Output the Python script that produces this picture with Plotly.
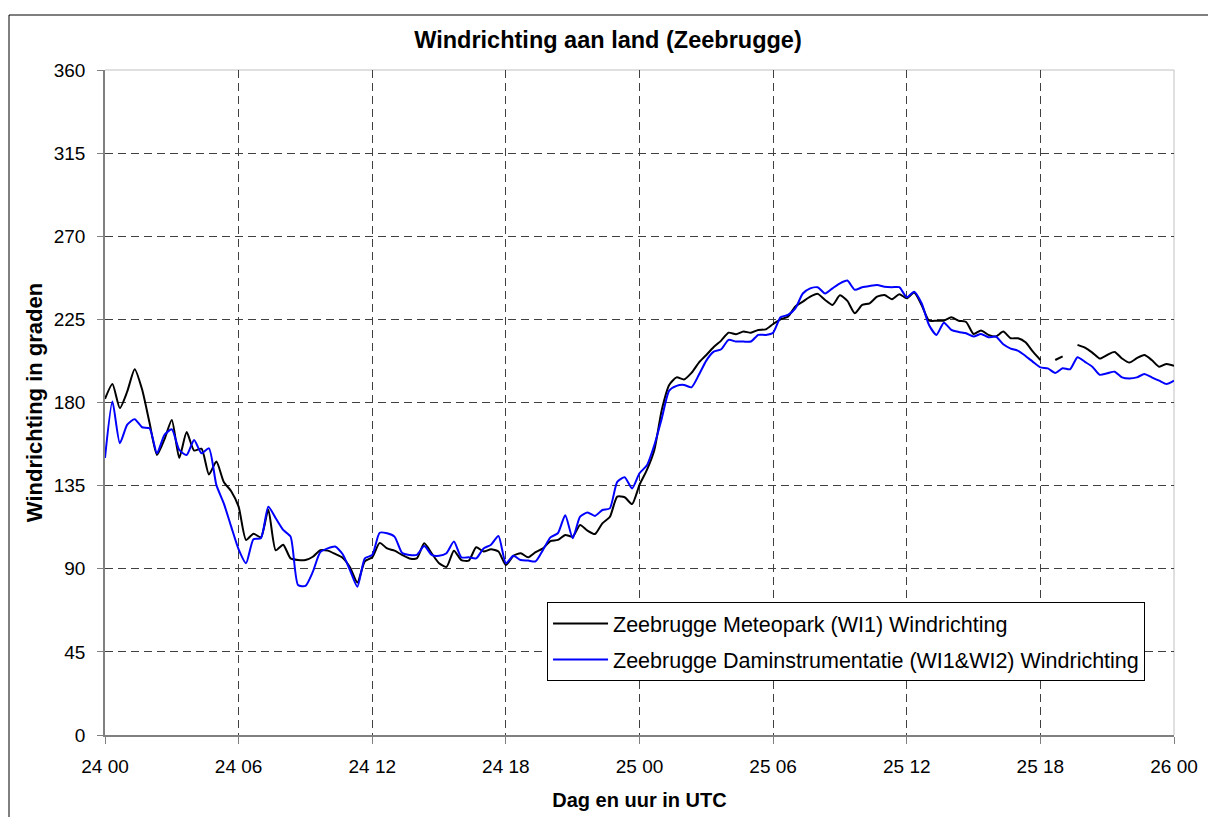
import numpy as np
import plotly.graph_objects as go

# Tijdas: uren na 24 00 UTC, één waarde per 20 minuten (24 00 .. 26 00)
uren = np.arange(145) * 20 / 60

tick_uren = [0, 6, 12, 18, 24, 30, 36, 42, 48]
tick_labels = ["24 00", "24 06", "24 12", "24 18", "25 00",
               "25 06", "25 12", "25 18", "26 00"]
graden_ticks = [0, 45, 90, 135, 180, 225, 270, 315, 360]

# Zeebrugge Meteopark (WI1) windrichting in graden (None = ontbrekend)
meteopark = [
    182, 190, 177, 186, 198, 187, 169, 151.6, 160, 170.5,
    150, 164, 154, 155, 141, 148, 137, 132, 123.6, 105.6,
    109, 107, 122, 100, 103, 95.6, 94.7, 94.7, 96.5, 100,
    99.8, 98, 96, 90.8, 82.5, 94, 96.2, 104, 101, 99.8,
    97.5, 95.6, 95.6, 103.8, 98.4, 93, 91, 99.8, 94.7, 94.4,
    101.6, 99.3, 100.5, 99.3, 92, 97, 98.4, 96.2, 99, 101,
    105, 105.6, 108.3, 107.4, 113.7, 110.6, 108.8, 114.6, 118, 129,
    128.7, 125, 135.4, 143.5, 154.3, 176, 189.5, 193.6, 192.5, 196,
    201.6, 205.7, 210, 213.5, 217.8, 217, 218.4, 217.8, 219.3, 219.6,
    222.5, 225, 226.5, 232, 234.6, 237.3, 238.8, 235.5, 232.8, 238,
    235, 228.3, 232.8, 233.7, 237.3, 238.2, 235.9, 238.6, 236.4, 239.5,
    232.8, 224.3, 224.3, 224.3, 226.1, 224.3, 223.6, 217.1, 219, 216.6,
    215.7, 218.4, 214.8, 214.8, 212.6, 207.5, 203, None, 203, 205,
    None, 211.2, 209.7, 207, 203.8, 205.7, 207.4, 203.8, 201.6, 204,
    205.7, 203, 199.4, 200.9, 199.8,
]

# Zeebrugge Daminstrumentatie (WI1&WI2) windrichting in graden
daminstrumentatie = [
    150, 180.5, 158, 168, 171, 166.6, 166, 152.5, 162.4, 165.5,
    154.3, 151.6, 159.7, 152.5, 155.2, 135.4, 125.4, 112.8, 100.5, 93,
    106, 106.5, 123.6, 117.3, 111, 107.4, 81.2, 80.7, 88.4, 99,
    101, 102, 98, 89.3, 80.3, 95.6, 97.5, 109.5, 109.2, 107.4,
    98.7, 97.5, 97.5, 102.3, 97.5, 97, 98.4, 104.7, 96.2, 96.2,
    95.6, 101, 103, 107.7, 93, 97, 94.7, 94.4, 94, 100.2,
    107, 109.2, 119, 106.5, 118.2, 120.4, 118.6, 121.8, 122.7, 137,
    139.5, 133.5, 141.7, 146, 157, 171.4, 186.4, 189, 189.5, 188.2,
    195, 202.7, 207.5, 208.8, 213.9, 213, 213, 213, 216.6, 216.6,
    217.8, 226.1, 227.4, 231, 239, 241.8, 242.4, 239, 241.8, 244.5,
    246, 241, 242.4, 243.1, 243.6, 242.7, 242.4, 242.4, 237, 240,
    233.7, 222, 216.6, 223.2, 219.3, 218.2, 217.5, 215.7, 217.1, 215.3,
    215.7, 211.5, 209.2, 208, 205.2, 202, 199, 198.5, 196, 198.5,
    198, 204.5, 202, 199.4, 195, 195.8, 196.7, 193.6, 193, 193.6,
    195.4, 193.6, 191.8, 190, 191.8,
]

FONT = "Liberation Sans, Arial, sans-serif"

fig = go.Figure()

fig.add_trace(go.Scatter(
    x=uren, y=meteopark,
    mode="lines",
    name="Zeebrugge Meteopark (WI1) Windrichting",
    line=dict(color="#000000", width=2, shape="spline", smoothing=0.6),
    connectgaps=False,
    legendgroup="a",
))
fig.add_trace(go.Scatter(
    x=uren, y=daminstrumentatie,
    mode="lines",
    name="Zeebrugge Daminstrumentatie (WI1&WI2) Windrichting",
    line=dict(color="#0000ff", width=2, shape="spline", smoothing=0.6),
    legendgroup="b",
))

# kader rond de hele grafiek + rand van het plotgebied
fig.add_shape(type="rect", xref="paper", yref="paper",
              x0=-0.0898, x1=1.2, y0=-0.3, y1=1.0827,
              line=dict(color="#000000", width=1), layer="below")
fig.add_shape(type="line", xref="paper", yref="paper",
              x0=0, x1=1, y0=1, y1=1,
              line=dict(color="#c0c0c0", width=1), layer="between")
fig.add_shape(type="line", xref="paper", yref="paper",
              x0=1, x1=1, y0=0, y1=1,
              line=dict(color="#c0c0c0", width=1), layer="between")

fig.update_layout(
    width=1200, height=809,
    paper_bgcolor="white",
    plot_bgcolor="white",
    margin=dict(l=97, r=34, t=62, b=82),
    font=dict(family=FONT, color="#000000", size=19),
    title=dict(
        text="<b>Windrichting aan land (Zeebrugge)</b>",
        font=dict(size=23.5, family=FONT),
        x=0.5, xanchor="center",
        y=1 - 32 / 809, yref="container", yanchor="middle",
    ),
    legend=dict(
        x=0.4135, y=0.2, xanchor="left", yanchor="top",
        bgcolor="white", bordercolor="#000000", borderwidth=1,
        font=dict(size=21.5, family=FONT),
        itemwidth=55,
        tracegroupgap=5,
    ),
    showlegend=True,
)

fig.update_xaxes(
    range=[0, 48],
    tickvals=tick_uren, ticktext=tick_labels,
    showgrid=True, gridcolor="#404040", griddash="8px,5px", gridwidth=1,
    showline=True, linecolor="#808080", linewidth=1.5,
    ticks="outside", ticklen=7, tickcolor="#808080",
    ticklabelstandoff=6,
    zeroline=False, automargin=False,
    title=dict(text="<b>Dag en uur in UTC</b>", font=dict(size=20), standoff=17),
)
fig.update_yaxes(
    range=[0, 360],
    tickvals=graden_ticks,
    showgrid=True, gridcolor="#404040", griddash="8px,5px", gridwidth=1,
    showline=True, linecolor="#808080", linewidth=1.5,
    ticks="outside", ticklen=6, tickcolor="#808080",
    ticklabelstandoff=8,
    zeroline=False, automargin=False,
    title=dict(text="<b>Windrichting in graden</b>", font=dict(size=22), standoff=5),
)

fig.write_html("out.html")
